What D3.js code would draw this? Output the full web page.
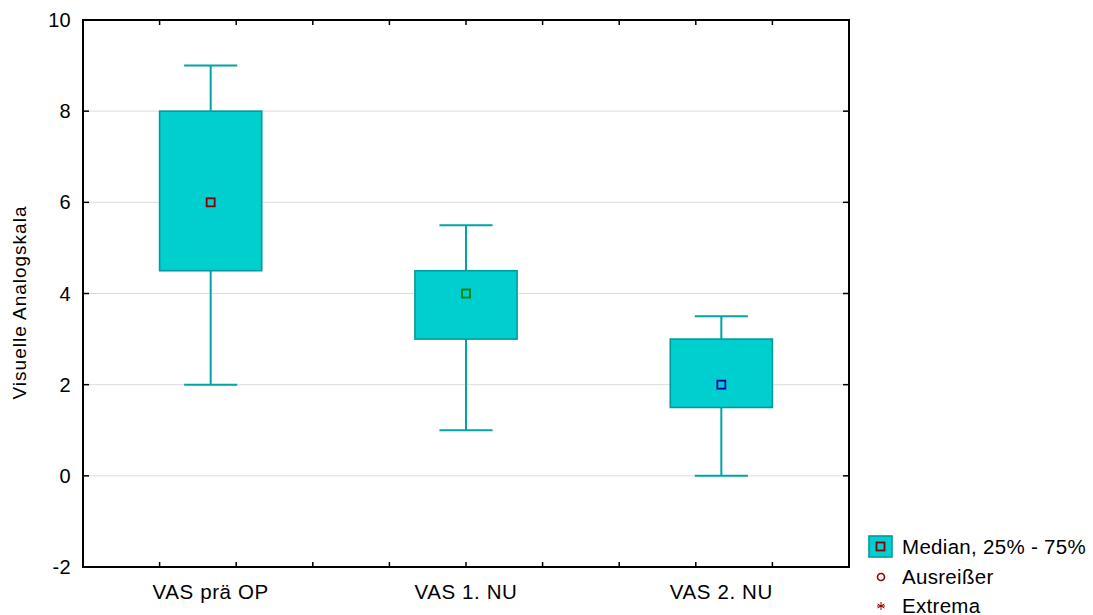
<!DOCTYPE html>
<html>
<head>
<meta charset="utf-8">
<script src="https://cdn.jsdelivr.net/npm/d3@7"></script>
<style>
  html, body { margin: 0; padding: 0; background: #fff; }
  svg { display: block; font-family: "Liberation Sans", Arial, sans-serif; }
</style>
</head>
<body>
<svg id="chart" width="1093" height="615"></svg>
<script>
// Box plot data: whisker ends, quartiles and medians of the pain scores
const categories = ["VAS prä OP", "VAS 1. NU", "VAS 2. NU"];
const minValues = [2, 1, 0];
const q1Values = [4.5, 3, 1.5];
const medianValues = [6, 4, 2];
const q3Values = [8, 4.5, 3];
const maxValues = [9, 5.5, 3.5];
const medianColors = ["#8b0000", "#008000", "#0000a0"];
const yTicks = [-2, 0, 2, 4, 6, 8, 10];
const legendLabels = ["Median, 25% - 75%", "Ausreißer", "Extrema"];

const svg = d3.select("#chart");
const margin = { left: 83, right: 244, top: 20, bottom: 48 };
const W = 1093, H = 615;
const x0 = margin.left, x1 = W - margin.right;
const y0 = H - margin.bottom, y1 = margin.top;

const boxFill = "#00cfd0";
const boxStroke = "#009a9a";
const whiskerStroke = "#00a4a4";

const x = d3.scaleBand().domain(categories).range([x0, x1]).paddingInner(0.6).paddingOuter(0.3);
const y = d3.scaleLinear().domain([-2, 10]).range([y0, y1]);

// horizontal grid
svg.append("g").selectAll("line").data(yTicks.filter(d => d > -2 && d < 10)).join("line")
  .attr("x1", x0).attr("x2", x1)
  .attr("y1", d => y(d)).attr("y2", d => y(d))
  .attr("stroke", "#dcdcdc").attr("stroke-width", 1);

// boxes
const rows = categories.map((c, i) => ({
  c, min: minValues[i], q1: q1Values[i], med: medianValues[i], q3: q3Values[i], max: maxValues[i], col: medianColors[i]
}));
const bw = x.bandwidth();
const capW = bw * 0.52;
const g = svg.append("g").selectAll("g").data(rows).join("g")
  .attr("transform", d => `translate(${x(d.c) + bw / 2},0)`);

g.append("line").attr("x1", 0).attr("x2", 0)
  .attr("y1", d => y(d.max)).attr("y2", d => y(d.q3))
  .attr("stroke", whiskerStroke).attr("stroke-width", 2);
g.append("line").attr("x1", 0).attr("x2", 0)
  .attr("y1", d => y(d.q1)).attr("y2", d => y(d.min))
  .attr("stroke", whiskerStroke).attr("stroke-width", 2);
g.append("line").attr("x1", -capW / 2).attr("x2", capW / 2)
  .attr("y1", d => y(d.max)).attr("y2", d => y(d.max))
  .attr("stroke", whiskerStroke).attr("stroke-width", 2);
g.append("line").attr("x1", -capW / 2).attr("x2", capW / 2)
  .attr("y1", d => y(d.min)).attr("y2", d => y(d.min))
  .attr("stroke", whiskerStroke).attr("stroke-width", 2);
g.append("rect")
  .attr("x", -bw / 2).attr("width", bw)
  .attr("y", d => y(d.q3)).attr("height", d => y(d.q1) - y(d.q3))
  .attr("fill", boxFill).attr("stroke", boxStroke).attr("stroke-width", 1.6);
g.append("rect")
  .attr("x", -4).attr("width", 8)
  .attr("y", d => y(d.med) - 4).attr("height", 8)
  .attr("fill", "none").attr("stroke", d => d.col).attr("stroke-width", 1.8);

// frame
svg.append("rect").attr("x", x0).attr("y", y1).attr("width", x1 - x0).attr("height", y0 - y1)
  .attr("fill", "none").attr("stroke", "#000").attr("stroke-width", 2);

// y ticks on both sides, pointing inward
const tl = 6;
svg.append("g").selectAll("line").data(yTicks).join("line")
  .attr("x1", x0).attr("x2", x0 + tl).attr("y1", d => y(d)).attr("y2", d => y(d))
  .attr("stroke", "#000").attr("stroke-width", 1.5);
svg.append("g").selectAll("line").data(yTicks).join("line")
  .attr("x1", x1).attr("x2", x1 - tl).attr("y1", d => y(d)).attr("y2", d => y(d))
  .attr("stroke", "#000").attr("stroke-width", 1.5);

// minor ticks along top and bottom
const xs = d3.scaleLinear().domain([0, 10]).range([x0, x1]);
const xTickPos = d3.range(1, 10);
svg.append("g").selectAll("line").data(xTickPos).join("line")
  .attr("x1", d => xs(d)).attr("x2", d => xs(d)).attr("y1", y1).attr("y2", y1 + 5)
  .attr("stroke", "#000").attr("stroke-width", 1.5);
svg.append("g").selectAll("line").data(xTickPos).join("line")
  .attr("x1", d => xs(d)).attr("x2", d => xs(d)).attr("y1", y0).attr("y2", y0 - 5)
  .attr("stroke", "#000").attr("stroke-width", 1.5);

// y tick labels
svg.append("g").selectAll("text").data(yTicks).join("text")
  .attr("x", x0 - 12).attr("y", d => y(d)).attr("dy", "0.35em")
  .attr("text-anchor", "end").attr("font-size", 20).attr("letter-spacing", 0.3).attr("fill", "#000")
  .text(d => d);

// category labels
svg.append("g").selectAll("text").data(categories).join("text")
  .attr("x", d => x(d) + bw / 2).attr("y", 599)
  .attr("text-anchor", "middle").attr("font-size", 20.5).attr("letter-spacing", 0.6).attr("fill", "#000")
  .text(d => d);

// y axis title
svg.append("text")
  .attr("transform", `translate(26,${(y0 + y1) / 2 + 9}) rotate(-90)`)
  .attr("text-anchor", "middle").attr("font-size", 19).attr("letter-spacing", 1.0)
  .attr("fill", "#000").text("Visuelle Analogskala");

// legend
const lg = svg.append("g").attr("transform", "translate(869,536)");
lg.append("rect").attr("x", 0).attr("y", 0).attr("width", 23).attr("height", 21)
  .attr("fill", boxFill).attr("stroke", boxStroke).attr("stroke-width", 1.6);
lg.append("rect").attr("x", 7.5).attr("y", 6.5).attr("width", 8).attr("height", 8)
  .attr("fill", "none").attr("stroke", medianColors[0]).attr("stroke-width", 1.8);
lg.append("circle").attr("cx", 12).attr("cy", 41).attr("r", 3.5)
  .attr("fill", "none").attr("stroke", "#8b0000").attr("stroke-width", 1.6);
const ast = lg.append("g").attr("transform", "translate(12,70)")
  .attr("stroke", "#8b0000").attr("stroke-width", 1);
[0, 60, 120].forEach(a => {
  const r = a * Math.PI / 180;
  ast.append("line").attr("x1", -4 * Math.sin(r)).attr("y1", -4 * Math.cos(r))
    .attr("x2", 4 * Math.sin(r)).attr("y2", 4 * Math.cos(r));
});
ast.append("line").attr("x1", -4).attr("x2", 4).attr("y1", 0).attr("y2", 0);
lg.selectAll("text.lab").data(legendLabels).join("text").attr("class", "lab")
  .attr("x", 33).attr("y", (d, i) => 11 + i * 30 - (i === 2 ? 1 : 0)).attr("dy", "0.35em")
  .attr("font-size", 20.5).attr("letter-spacing", 0.3).attr("fill", "#000").text(d => d);
</script>
</body>
</html>
